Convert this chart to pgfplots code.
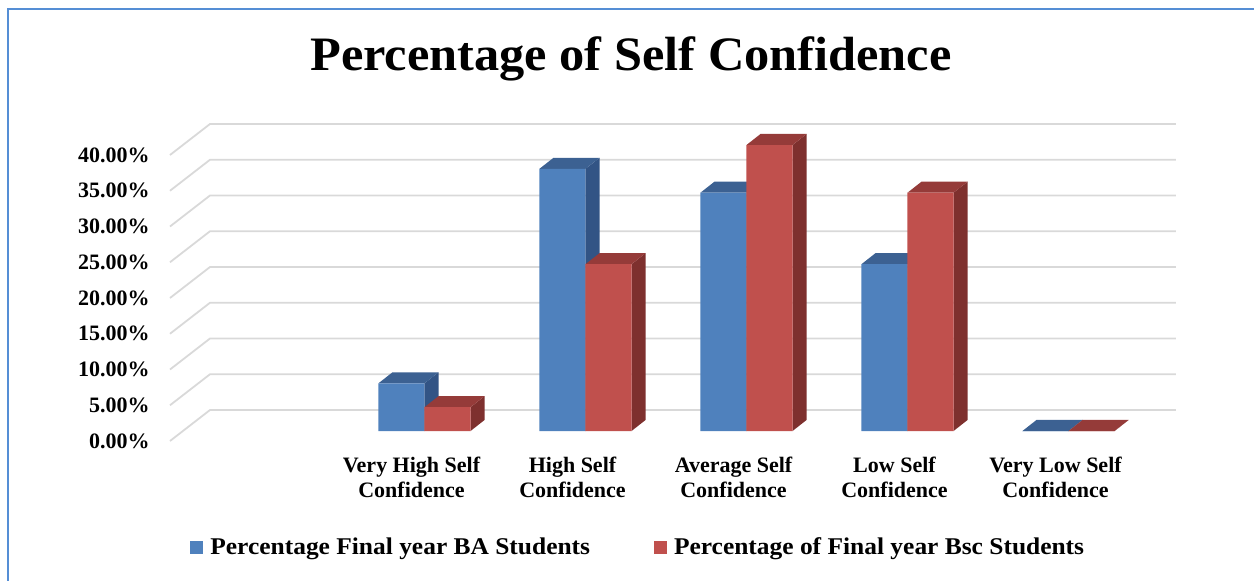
\documentclass[border=0pt]{standalone}
\usepackage{fontspec}
\setmainfont{Liberation Serif}
\newfontfamily\titlefont[FakeStretch=1.05]{Liberation Serif}
\newfontfamily\legfont[FakeStretch=1.06]{Liberation Serif}
\usepackage{pgfplots}
\usepackage{pgfplotstable}
\pgfplotsset{compat=1.18}
\definecolor{baFront}{HTML}{4F81BD}
\definecolor{baTop}{HTML}{3C6192}
\definecolor{baSide}{HTML}{325485}
\definecolor{bscFront}{HTML}{C0504D}
\definecolor{bscTop}{HTML}{953B39}
\definecolor{bscSide}{HTML}{7E302E}
\definecolor{gridc}{HTML}{D9D9D9}
\definecolor{borderc}{HTML}{558ED5}

\pgfplotstableread{
x ba bsc
1 6.67 3.33
2 36.67 23.33
3 33.33 40.00
4 23.33 33.33
5 0 0
}\datatable

\def\bw{0.286}
\def\ddx{0.087}
\def\ddy{1.54}

\newcommand\barfaces[4]{%
  \pgfmathsetmacro\xa{#1}%
  \pgfmathsetmacro\xb{#1+\bw}%
  \pgfmathsetmacro\xc{#1+\bw+\ddx}%
  \pgfmathsetmacro\xd{#1+\ddx}%
  \pgfmathsetmacro\ha{#2}%
  \pgfmathsetmacro\hb{#2+\ddy}%
  \edef\temp{%
    \noexpand\addplot[fill=#4, draw=none, forget plot] coordinates {(\xb,0) (\xb,\ha) (\xc,\hb) (\xc,\ddy)} -- cycle;
    \noexpand\addplot[fill=#3, draw=none, forget plot] coordinates {(\xa,\ha) (\xb,\ha) (\xc,\hb) (\xd,\hb)} -- cycle;
  }%
  \temp
}

\pgfplotsset{sq legend/.style={legend image code/.code={\fill[##1, draw=none] (0pt,-3.25pt) rectangle (6.5pt,3.25pt);}}}

\begin{document}
\begin{tikzpicture}
\useasboundingbox (-91.5pt,-74.5pt) rectangle (535.5pt,215.5pt);
\draw[borderc, line width=1pt] (-87.5pt,-80pt) -- (-87.5pt,211pt) -- (540pt,211pt);
\begin{axis}[
  at={(0,0)}, anchor=south west,
  scale only axis, width=483pt, height=143pt,
  xmin=-0.5, xmax=5.5, ymin=0, ymax=40,
  clip=false,
  axis line style={draw=none},
  major tick length=0pt,
  xtick={1,2,3,4,5},
  xticklabels={{Very High Self\\Confidence},{High Self\\Confidence},{Average Self\\Confidence},{Low Self\\Confidence},{Very Low Self\\Confidence}},
  xticklabel style={align=center, anchor=north, inner sep=0pt, xshift=-6.5pt, yshift=-13pt,
    font=\fontsize{11}{12.5}\selectfont\bfseries},
  ytick={0,5,...,40},
  yticklabels={0.00\%,5.00\%,10.00\%,15.00\%,20.00\%,25.00\%,30.00\%,35.00\%,40.00\%},
  yticklabel style={anchor=east, inner sep=0pt, xshift=-16.5pt, yshift=-5pt,
    font=\fontsize{11}{13}\selectfont\bfseries},
  title={Percentage of Self Confidence},
  title style={at={(axis description cs:0.5,1)}, anchor=base, xshift=-17.5pt, yshift=31.5pt,
    font=\titlefont\bfseries\fontsize{24}{28}\selectfont},
  legend columns=2,
  legend style={at={(0.00725,-0.409)}, anchor=west, draw=none, fill=none, inner sep=0pt,
    font=\legfont\bfseries\fontsize{12}{14}\selectfont,
    /tikz/every even column/.append style={column sep=32pt},
    nodes={inner sep=0pt}},
  legend cell align=left,
]
% gridlines
\pgfplotsinvokeforeach{0,5,...,40}{
  \draw[gridc, line width=0.9pt] ([shift={(-6.5pt,-5pt)}]axis cs:-0.5,#1) -- ([shift={(13.5pt,10.5pt)}]axis cs:-0.5,#1) -- ([shift={(13.5pt,10.5pt)}]axis cs:5.5,#1);
}
% BA 3D faces
\pgfplotsinvokeforeach{0,...,4}{
  \pgfplotstablegetelem{#1}{x}\of\datatable \let\cx\pgfplotsretval
  \pgfplotstablegetelem{#1}{ba}\of\datatable \let\hv\pgfplotsretval
  \pgfmathsetmacro\xl{\cx-\bw}
  \barfaces{\xl}{\hv}{baTop}{baSide}
}
\addplot[ybar, bar width=0.286, bar shift=-0.143, fill=baFront, draw=none, sq legend] table[x=x, y=ba]{\datatable};
\addlegendentry{\hspace{3.5pt}Percentage Final year BA Students}
% BSc 3D faces
\pgfplotsinvokeforeach{0,...,4}{
  \pgfplotstablegetelem{#1}{x}\of\datatable \let\cx\pgfplotsretval
  \pgfplotstablegetelem{#1}{bsc}\of\datatable \let\hv\pgfplotsretval
  \pgfmathsetmacro\xl{\cx}
  \barfaces{\xl}{\hv}{bscTop}{bscSide}
}
\addplot[ybar, bar width=0.286, bar shift=0.143, fill=bscFront, draw=none, sq legend] table[x=x, y=bsc]{\datatable};
\addlegendentry{\hspace{3.5pt}Percentage of Final year Bsc Students}
\end{axis}
\end{tikzpicture}
\end{document}
